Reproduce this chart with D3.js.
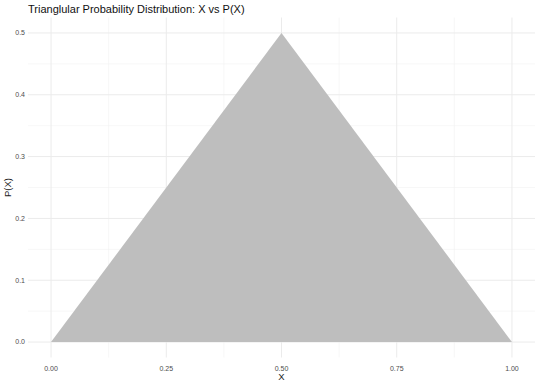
<!DOCTYPE html>
<html>
<head>
<meta charset="utf-8">
<script src="https://cdn.jsdelivr.net/npm/d3@7"></script>
<style>
body { margin: 0; background: #fff; }
text { font-family: "Liberation Sans", Arial, sans-serif; }
</style>
</head>
<body>
<div id="chart"></div>
<script>
// data: triangle vertices
var xs = [0, 0.5, 1];
var ps = [0, 0.5, 0];
var xTicks = [0, 0.25, 0.5, 0.75, 1];
var yTicks = [0, 0.1, 0.2, 0.3, 0.4, 0.5];

var W = 540, H = 384;
var m = {left: 28, right: 5, top: 17.5, bottom: 26.5};
var w = W - m.left - m.right;
var h = H - m.top - m.bottom;

var svg = d3.select("#chart")
  .append("svg")
  .attr("width", W)
  .attr("height", H);

var g = svg.append("g")
  .attr("transform", "translate(" + m.left + "," + m.top + ")");

// ggplot-style 5% expansion
var x = d3.scaleLinear().domain([-0.05, 1.05]).range([0, w]);
var y = d3.scaleLinear().domain([-0.025, 0.525]).range([h, 0]);

// minor gridlines
var xMinor = [0.125, 0.375, 0.625, 0.875];
var yMinor = [0.05, 0.15, 0.25, 0.35, 0.45];

g.selectAll(".xminor").data(xMinor).enter().append("line")
  .attr("x1", d => x(d)).attr("x2", d => x(d))
  .attr("y1", 0).attr("y2", h)
  .attr("stroke", "#f2f2f2").attr("stroke-width", 0.6);
g.selectAll(".yminor").data(yMinor).enter().append("line")
  .attr("x1", 0).attr("x2", w)
  .attr("y1", d => y(d)).attr("y2", d => y(d))
  .attr("stroke", "#f2f2f2").attr("stroke-width", 0.6);

// major gridlines
g.selectAll(".xmajor").data(xTicks).enter().append("line")
  .attr("x1", d => x(d)).attr("x2", d => x(d))
  .attr("y1", 0).attr("y2", h)
  .attr("stroke", "#ebebeb").attr("stroke-width", 1);
g.selectAll(".ymajor").data(yTicks).enter().append("line")
  .attr("x1", 0).attr("x2", w)
  .attr("y1", d => y(d)).attr("y2", d => y(d))
  .attr("stroke", "#ebebeb").attr("stroke-width", 1);

// triangle area
var pts = xs.map((d, i) => [d, ps[i]]);
var area = d3.area()
  .x(d => x(d[0]))
  .y0(y(0))
  .y1(d => y(d[1]));

g.append("path")
  .datum(pts)
  .attr("d", area)
  .attr("fill", "#bebebe");

// tick labels
g.selectAll(".xlab").data(xTicks).enter().append("text")
  .attr("x", d => x(d))
  .attr("y", h + 13)
  .attr("text-anchor", "middle")
  .attr("font-size", 7)
  .attr("fill", "#4d4d4d")
  .text(d => d3.format(".2f")(d));

g.selectAll(".ylab").data(yTicks).enter().append("text")
  .attr("x", -3)
  .attr("y", d => y(d))
  .attr("dy", "0.35em")
  .attr("text-anchor", "end")
  .attr("font-size", 7)
  .attr("fill", "#4d4d4d")
  .text(d => d3.format(".1f")(d));

// axis titles
svg.append("text")
  .attr("x", m.left + x(0.5))
  .attr("y", 380)
  .attr("text-anchor", "middle")
  .attr("font-size", 9.5)
  .attr("fill", "#222")
  .text("X");

svg.append("text")
  .attr("transform", "translate(11," + (m.top + y(0.25)) + ") rotate(-90)")
  .attr("text-anchor", "middle")
  .attr("font-size", 9.5)
  .attr("fill", "#222")
  .text("P(X)");

// title
svg.append("text")
  .attr("x", 28)
  .attr("y", 13)
  .attr("font-size", 11)
  .attr("fill", "#111")
  .text("Trianglular Probability Distribution: X vs P(X)");
</script>
</body>
</html>
